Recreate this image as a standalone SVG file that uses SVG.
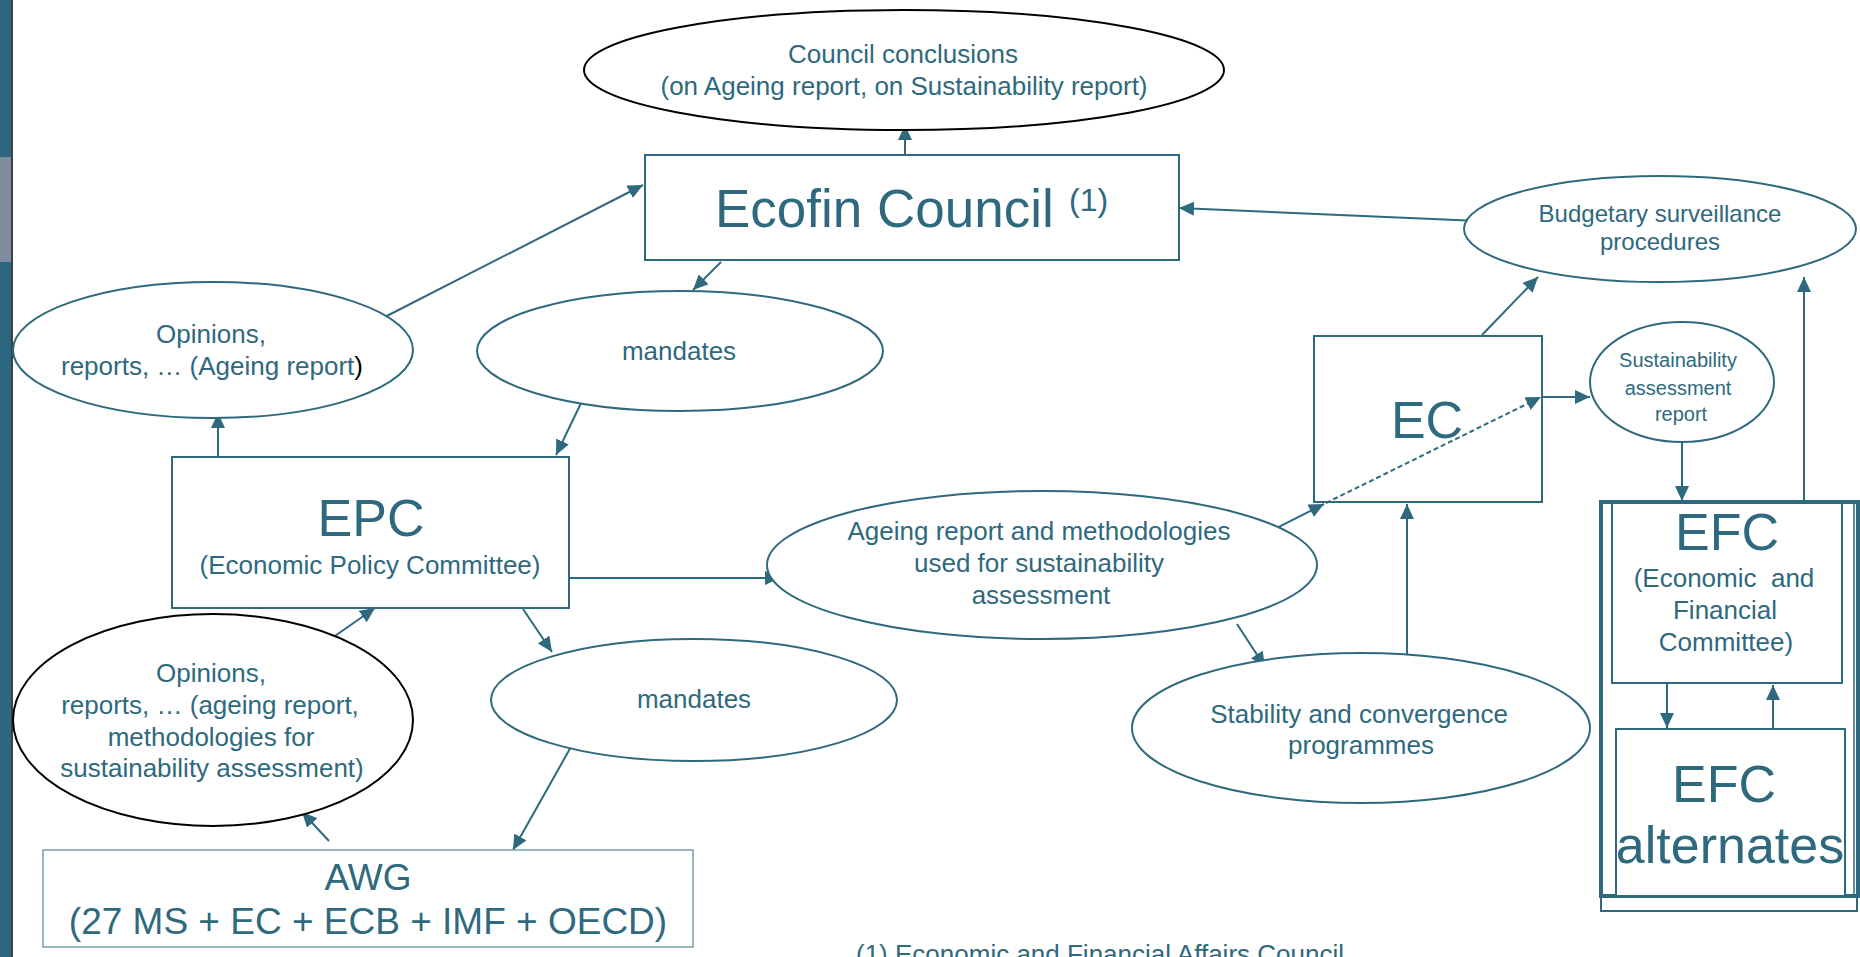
<svg xmlns="http://www.w3.org/2000/svg" width="1860" height="957" viewBox="0 0 1860 957">
<style>
  text { font-family: "Liberation Sans", Arial, sans-serif; fill: #2E697E; }
  .t26 { font-size: 26px; text-anchor: middle; }
  .t24 { font-size: 24px; text-anchor: middle; }
  .t20 { font-size: 20px; text-anchor: middle; }
  .big { font-size: 52px; text-anchor: middle; }
  .awg { font-size: 37px; text-anchor: middle; }
  .box { fill: #FFFFFF; stroke: #2E697E; stroke-width: 2; }
  .ell { fill: #FFFFFF; stroke: #2E697E; stroke-width: 2; }
  .ellb { fill: #FFFFFF; stroke: #000000; stroke-width: 2; }
  .con { fill: none; stroke: #2E697E; stroke-width: 2; marker-end: url(#ah); }
  .dash { stroke-dasharray: 5 3; }
</style>
<defs>
  <marker id="ah" markerUnits="userSpaceOnUse" markerWidth="16" markerHeight="14" refX="15" refY="7" orient="auto">
    <path d="M0,0 L15,7 L0,14 z" fill="#2E697E"/>
  </marker>
</defs>
<rect x="0" y="0" width="1860" height="957" fill="#FFFFFF"/>
<g id="sidebar">
  <rect x="0" y="0" width="11" height="957" fill="#2B677E"/>
  <rect x="0" y="157" width="11" height="105" fill="#7D8D9E"/>
  <line x1="12" y1="0" x2="12" y2="957" stroke="#000000" stroke-width="1.5"/>
</g>
<g id="connectors">
  <line class="con" x1="905" y1="154" x2="905" y2="125"/>
  <line class="con" x1="377" y1="321" x2="643" y2="185"/>
  <line class="con" x1="218" y1="457" x2="218" y2="413"/>
  <line class="con" x1="721" y1="262" x2="693" y2="290"/>
  <line class="con" x1="584" y1="397" x2="556" y2="455"/>
  <line class="con" x1="569" y1="578" x2="780" y2="578"/>
  <line class="con" x1="523" y1="609" x2="552" y2="652"/>
  <line class="con" x1="332" y1="638" x2="375" y2="608"/>
  <line class="con" x1="572" y1="745" x2="513" y2="850"/>
  <line class="con" x1="329" y1="841" x2="302" y2="812"/>
  <line class="con" x1="1269" y1="532" x2="1324" y2="504"/>
  <line class="con dash" x1="1326" y1="503" x2="1541" y2="397"/>
  <line class="con" x1="1541" y1="397" x2="1590" y2="397"/>
  <line class="con" x1="1237" y1="624" x2="1265" y2="667"/>
  <line class="con" x1="1482" y1="335" x2="1538" y2="277"/>
  <line class="con" x1="1407" y1="654" x2="1407" y2="504"/>
  <line class="con" x1="1479" y1="221" x2="1179" y2="208"/>
  <line class="con" x1="1682" y1="443" x2="1682" y2="501"/>
  <line class="con" x1="1804" y1="501" x2="1804" y2="277"/>
  <line class="con" x1="1667" y1="683" x2="1667" y2="728"/>
  <line class="con" x1="1773" y1="729" x2="1773" y2="685"/>
</g>
<g id="council-conclusions">
  <ellipse class="ellb" cx="904" cy="70" rx="320" ry="60"/>
  <text class="t26" x="903" y="63">Council conclusions</text>
  <text class="t26" x="904" y="95">(on Ageing report, on Sustainability report)</text>
</g>
<g id="ecofin">
  <rect class="box" x="645" y="155" width="534" height="105"/>
  <text x="715" y="227" style="font-size:53px">Ecofin Council</text>
  <text x="1069" y="211" style="font-size:32px">(1)</text>
</g>
<g id="opinions-1">
  <ellipse class="ell" cx="213" cy="350" rx="200" ry="68"/>
  <text class="t26" x="211" y="343">Opinions,</text>
  <text class="t26" x="212" y="375">reports, … (Ageing report<tspan fill="#000000">)</tspan></text>
</g>
<g id="mandates-1">
  <ellipse class="ell" cx="680" cy="351" rx="203" ry="60"/>
  <text class="t26" x="679" y="360">mandates</text>
</g>
<g id="epc">
  <rect class="box" x="172" y="457" width="397" height="151"/>
  <text class="big" x="371" y="536">EPC</text>
  <text class="t26" x="370" y="574">(Economic Policy Committee)</text>
</g>
<g id="opinions-2">
  <ellipse class="ellb" cx="213" cy="720" rx="200" ry="106"/>
  <text class="t26" x="211" y="682">Opinions,</text>
  <text class="t26" x="210" y="714">reports, … (ageing report,</text>
  <text class="t26" x="211" y="746">methodologies for</text>
  <text class="t26" x="212" y="777">sustainability assessment)</text>
</g>
<g id="mandates-2">
  <ellipse class="ell" cx="694" cy="700" rx="203" ry="61"/>
  <text class="t26" x="694" y="708">mandates</text>
</g>
<g id="awg">
  <rect x="43" y="850" width="650" height="97" fill="#FFFFFF" stroke="#7A9DAD" stroke-width="1.5"/>
  <text class="awg" x="368" y="890">AWG</text>
  <text class="awg" x="368" y="934">(27 MS + EC + ECB + IMF + OECD)</text>
</g>
<g id="ageing-report">
  <ellipse class="ell" cx="1042" cy="565" rx="275" ry="74"/>
  <text class="t26" x="1039" y="540">Ageing report and methodologies</text>
  <text class="t26" x="1039" y="572">used for sustainability</text>
  <text class="t26" x="1041" y="604">assessment</text>
</g>
<g id="ec">
  <rect x="1314" y="336" width="228" height="166" fill="none" stroke="#2E697E" stroke-width="2"/>
  <text class="big" x="1427" y="438">EC</text>
</g>
<g id="budgetary">
  <ellipse class="ell" cx="1660" cy="229" rx="196" ry="53"/>
  <text class="t24" x="1660" y="222">Budgetary surveillance</text>
  <text class="t24" x="1660" y="250">procedures</text>
</g>
<g id="sustainability-report">
  <ellipse class="ell" cx="1682" cy="382" rx="92" ry="60"/>
  <text class="t20" x="1678" y="367">Sustainability</text>
  <text class="t20" x="1678" y="395">assessment</text>
  <text class="t20" x="1681" y="421">report</text>
</g>
<g id="stability">
  <ellipse class="ell" cx="1361" cy="728" rx="229" ry="75"/>
  <text class="t26" x="1359" y="723">Stability and convergence</text>
  <text class="t26" x="1361" y="754">programmes</text>
</g>
<g id="efc-group">
  <rect x="1601" y="896" width="256" height="15" fill="none" stroke="#2E697E" stroke-width="2"/>
  <rect x="1601" y="502" width="257" height="394" fill="none" stroke="#2E697E" stroke-width="4"/>
  <line x1="1854" y1="502" x2="1854" y2="896" stroke="#2E697E" stroke-width="1.5"/>
</g>
<g id="efc">
  <rect class="box" x="1612" y="503" width="230" height="180"/>
  <text class="big" x="1727" y="550">EFC</text>
  <text class="t26" x="1724" y="587" xml:space="preserve">(Economic  and</text>
  <text class="t26" x="1725" y="619">Financial</text>
  <text class="t26" x="1726" y="651">Committee)</text>
</g>
<g id="efc-alternates">
  <rect class="box" x="1616" y="729" width="229" height="167"/>
  <text class="big" x="1724" y="802">EFC</text>
  <text class="big" x="1730" y="863">alternates</text>
</g>
<g id="footnote">
  <text x="856" y="963" style="font-size:26px">(1) Economic and Financial Affairs Council</text>
</g>
</svg>
